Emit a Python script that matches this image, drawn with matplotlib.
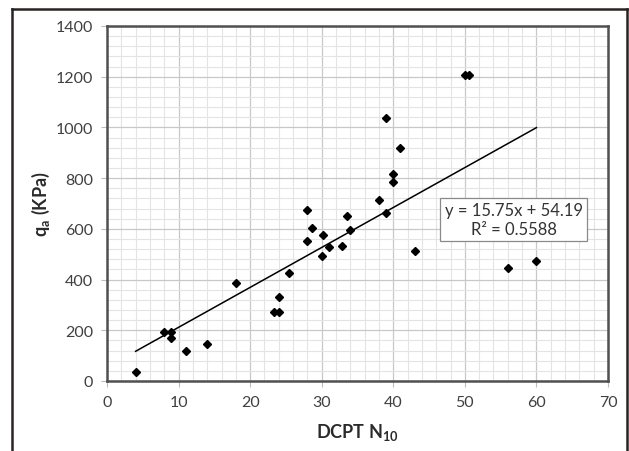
import matplotlib
matplotlib.use("Agg")
import matplotlib.pyplot as plt
from matplotlib.lines import Line2D
from matplotlib.ticker import MultipleLocator
import numpy as np

plt.rcParams["font.family"] = ["Lato", "DejaVu Sans"]
plt.rcParams["mathtext.fontset"] = "custom"
plt.rcParams["mathtext.rm"] = "Lato"
plt.rcParams["mathtext.bf"] = "Lato:bold"
plt.rcParams["mathtext.it"] = "Lato:italic"

# data
dcpt_n10 = [4, 8, 9, 9, 11, 14, 18, 23.3, 24, 24, 25.4, 28, 28, 28.6, 30.2,
            30, 31, 32.8, 33.6, 33.9, 38, 39, 39, 40, 40, 41, 43, 50, 50.6,
            56, 60]
qa_kpa = [35, 192, 195, 170, 120, 146, 385, 272, 272, 333, 425, 553, 674, 603,
          577, 494, 528, 531, 649, 595, 715, 1036, 662, 817, 783, 918, 514,
          1207, 1207, 444, 472]

slope, intercept = 15.75, 54.19
r_squared = 0.5588

fig = plt.figure(figsize=(6.29, 4.52), dpi=100)
ax = fig.add_axes([107 / 629, 1 - 382 / 452, (608 - 107) / 629, (382 - 27) / 452])

ax.set_xlim(0, 70)
ax.set_ylim(0, 1400)
ax.xaxis.set_major_locator(MultipleLocator(10))
ax.xaxis.set_minor_locator(MultipleLocator(2))
ax.yaxis.set_major_locator(MultipleLocator(200))
ax.yaxis.set_minor_locator(MultipleLocator(40))
ax.grid(which="major", color="#c8c8c8", linewidth=0.9)
ax.grid(which="minor", color="#e4e4e4", linewidth=0.8)
ax.set_axisbelow(True)

for s in ax.spines.values():
    s.set_color("#505050")
    s.set_linewidth(1.8)
ax.tick_params(which="major", length=4, color="#bdbdbd", labelsize=11.5,
               labelcolor="#404040", pad=6)
ax.tick_params(which="minor", length=0)

ax.plot(dcpt_n10, qa_kpa, linestyle="none", marker="D", markersize=4.5,
        color="black")

xfit = np.array([min(dcpt_n10), max(dcpt_n10)])
ax.plot(xfit, slope * xfit + intercept, color="black", linewidth=1.1)

ax.text(56.8, 636, f"y = {slope:.2f}x + {intercept:.2f}\nR² = {r_squared:.4f}",
        ha="center", va="center", fontsize=12, color="#333333",
        linespacing=1.2,
        bbox=dict(boxstyle="square,pad=0.25", facecolor="white",
                  edgecolor="#8a8a8a", linewidth=0.9))

ax.set_xlabel(r"$\mathbf{DCPT\ N_{10}}$", fontsize=13, color="#2a2a2a",
              labelpad=9)
ax.set_ylabel(r"$\mathbf{q_a\ (KPa)}$", fontsize=13, color="#2a2a2a",
              labelpad=3)

# outer frame
for xs, ys in [([12, 12], [-5, 442]), ([12, 627], [442, 442]),
               ([627, 627], [442, -5])]:
    fig.add_artist(Line2D(np.array(xs) / 629, np.array(ys) / 452,
                          color="#2a2220", linewidth=1.8))

fig.savefig("out.png", dpi=100)
